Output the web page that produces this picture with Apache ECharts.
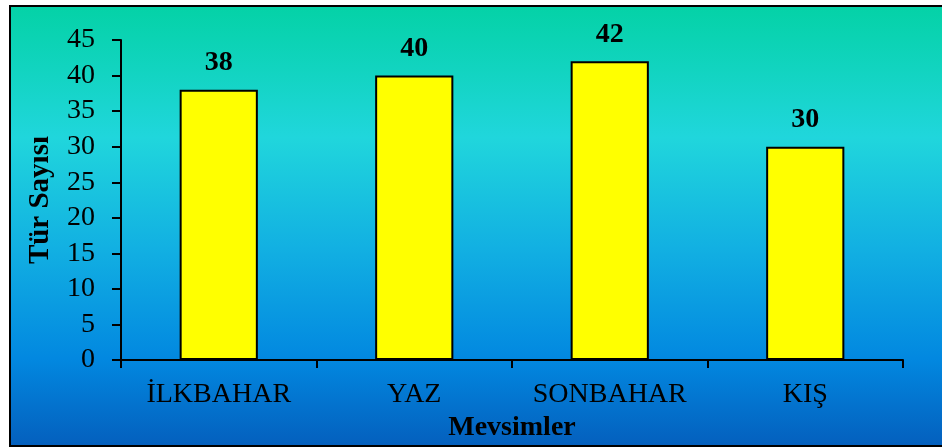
<!DOCTYPE html>
<html>
<head>
<meta charset="utf-8">
<script src="https://cdn.jsdelivr.net/npm/echarts@6/dist/echarts.min.js"></script>
<style>
html,body{margin:0;padding:0;background:#fff;}
#c{width:942px;height:447px;}
</style>
</head>
<body>
<div id="c"></div>
<script>
const categories = ['İLKBAHAR', 'YAZ', 'SONBAHAR', 'KIŞ'];
const values = [38, 40, 42, 30];
const yTicks = [0, 5, 10, 15, 20, 25, 30, 35, 40, 45];
const xName = 'Mevsimler';
const yName = 'Tür Sayısı';

const FONT = '"Liberation Serif", "Times New Roman", serif';
const chart = echarts.init(document.getElementById('c'), null, {renderer: 'canvas'});
chart.setOption({
  animation: false,
  graphic: [{
    type: 'rect', z: -10, silent: true,
    shape: {x: 10, y: 6, width: 940, height: 440},
    style: {
      fill: new echarts.graphic.LinearGradient(0, 0, 0, 1, [
        {offset: 0, color: '#04d2a6'},
        {offset: 0.3, color: '#20d6dc'},
        {offset: 0.55, color: '#12b0e2'},
        {offset: 0.8, color: '#0288e0'},
        {offset: 1, color: '#045fbd'}
      ]),
      stroke: '#000', lineWidth: 2
    }
  }],
  grid: {left: 121, right: 39, top: 40, bottom: 84, containLabel: false},
  xAxis: {
    type: 'category', data: categories,
    name: xName, nameLocation: 'middle', nameGap: 51,
    nameTextStyle: {fontFamily: FONT, fontSize: 28, fontWeight: 'bold', color: '#000'},
    axisLine: {lineStyle: {color: '#000', width: 2}},
    axisTick: {show: true, interval: 0, length: 8, lineStyle: {color: '#000', width: 2}},
    axisLabel: {interval: 0, fontFamily: FONT, fontSize: 28, color: '#000', margin: 21}
  },
  yAxis: {
    type: 'value', min: 0, max: 45, interval: 5,
    name: yName, nameLocation: 'middle', nameGap: 66, nameRotate: 90,
    nameTextStyle: {fontFamily: FONT, fontSize: 29, fontWeight: 'bold', color: '#000'},
    axisLine: {show: true, lineStyle: {color: '#000', width: 2}},
    axisTick: {show: true, length: 9, lineStyle: {color: '#000', width: 2}},
    splitLine: {show: false},
    axisLabel: {fontFamily: FONT, fontSize: 28, color: '#000', margin: 26,
      formatter: v => yTicks.includes(v) ? String(v) : ''}
  },
  series: [{
    type: 'bar', data: values, barWidth: '40%',
    itemStyle: {color: '#ffff00', borderColor: '#000', borderWidth: 2},
    label: {show: true, position: 'top', distance: 13,
      fontFamily: FONT, fontSize: 28, fontWeight: 'bold', color: '#000'}
  }]
});
</script>
</body>
</html>
